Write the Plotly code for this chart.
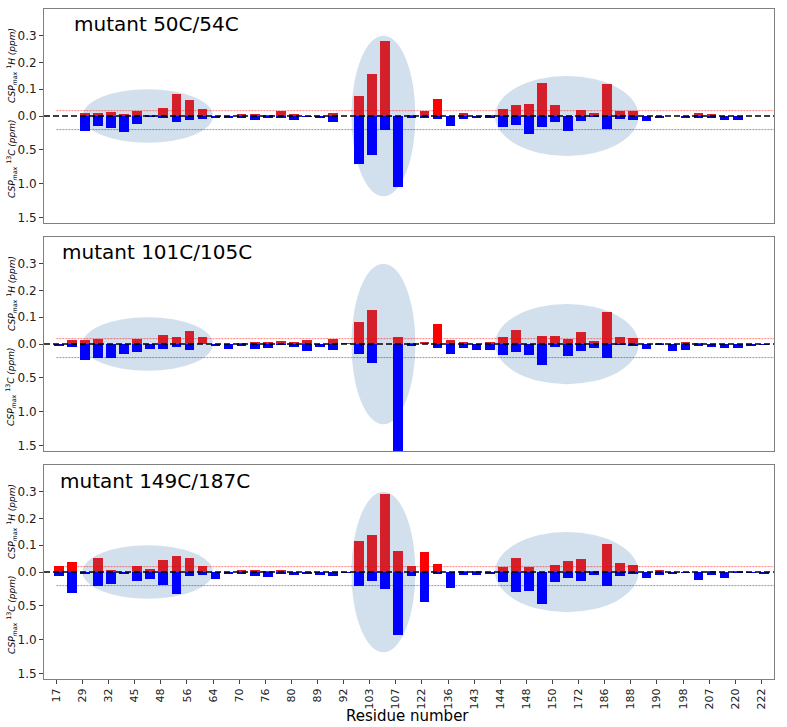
import plotly.graph_objects as go

# ---------------- data ----------------
RESIDUES = ["17", "17'", "29", "29'", "32", "32'", "45", "45'", "48", "48'",
            "56", "56'", "64", "64'", "70", "70'", "76", "76'", "80", "80'",
            "89", "89'", "92", "92'", "103", "103'", "107", "107'", "122", "122'",
            "136", "136'", "143", "143'", "144", "144'", "148", "148'", "150", "150'",
            "172", "172'", "186", "186'", "188", "188'", "190", "190'", "198", "198'",
            "207", "207'", "220", "220'", "222"]
TICK_RESIDUES = RESIDUES[::2]

MUTANTS = ["mutant 50C/54C", "mutant 101C/105C", "mutant 149C/187C"]

# 1H CSP (ppm), upward bars
H_50_54 = [0, 0, 0.010, 0.012, 0.015, 0.009, 0.019, 0.003, 0.030, 0.081,
           0.061, 0.027, 0, 0, 0.007, 0.009, 0.002, 0.017, 0.008, 0,
           0, 0.012, 0, 0.076, 0.158, 0.282, 0, 0.002, 0.017, 0.063,
           0, 0.010, 0, 0.002, 0.025, 0.042, 0.045, 0.122, 0.040, 0,
           0.024, 0.010, 0.119, 0.019, 0.019, 0, 0, 0, 0, 0.011,
           0.006, 0, 0, 0, 0]
H_101_105 = [0, 0.015, 0.014, 0.020, 0, 0, 0.017, 0, 0.034, 0.027,
             0.049, 0.026, 0, 0, 0.003, 0.009, 0.006, 0.012, 0.006, 0.015,
             0, 0.017, 0.003, 0.081, 0.126, 0, 0.025, 0.002, 0.004, 0.073,
             0.014, 0.005, 0, 0.009, 0.027, 0.054, 0, 0.029, 0.031, 0.017,
             0.045, 0.010, 0.120, 0.027, 0.022, 0, 0.003, 0, 0.009, 0.002,
             0, 0, 0, 0, 0]
H_149_187 = [0.021, 0.036, 0, 0.054, 0.004, 0, 0.024, 0.010, 0.046, 0.061,
             0.051, 0.021, 0, 0, 0.005, 0.004, 0.002, 0.008, 0, 0,
             0, 0, 0, 0.115, 0.140, 0.293, 0.080, 0.024, 0.074, 0.030,
             0, 0.003, 0.003, 0, 0.019, 0.054, 0.019, 0, 0.028, 0.040,
             0.049, 0.003, 0.104, 0.035, 0.028, 0, 0.008, 0, 0, 0,
             0.003, 0, 0.003, 0, 0]

# 13C CSP (ppm), downward bars
C_50_54 = [0, 0, 0.215, 0.147, 0.18, 0.235, 0.113, 0.005, 0.02, 0.093,
           0.064, 0.04, 0.02, 0.02, 0.015, 0.054, 0.03, 0.025, 0.06, 0.01,
           0.015, 0.083, 0, 0.70, 0.575, 0.205, 1.04, 0.025, 0.03, 0.05,
           0.147, 0.045, 0.035, 0.015, 0.167, 0.132, 0.265, 0.162, 0.088, 0.216,
           0.078, 0.01, 0.19, 0.04, 0.064, 0.074, 0.025, 0, 0.015, 0.025,
           0.015, 0.054, 0.054, 0, 0]
C_101_105 = [0.02, 0.04, 0.23, 0.20, 0.20, 0.14, 0.12, 0.08, 0.08, 0.05,
             0.085, 0, 0.03, 0.07, 0.02, 0.07, 0.055, 0.005, 0.04, 0.10,
             0.05, 0.085, 0, 0.15, 0.28, 0, 1.57, 0.03, 0, 0.055,
             0.14, 0.055, 0.095, 0.085, 0.16, 0.12, 0.165, 0.31, 0.05, 0.17,
             0.11, 0.06, 0.20, 0.01, 0.02, 0.08, 0.003, 0.11, 0.095, 0.025,
             0.045, 0.06, 0.055, 0.025, 0.005]
C_149_187 = [0.06, 0.31, 0.03, 0.21, 0.18, 0.025, 0.13, 0.10, 0.19, 0.32,
             0.06, 0.04, 0.11, 0.03, 0.02, 0.055, 0.08, 0.015, 0.04, 0.035,
             0.045, 0.065, 0.01, 0.21, 0.13, 0.25, 0.92, 0.06, 0.44, 0.03,
             0.24, 0.05, 0.04, 0.02, 0.15, 0.30, 0.28, 0.475, 0.15, 0.09,
             0.13, 0.04, 0.21, 0.06, 0.025, 0.09, 0.04, 0.02, 0.01, 0.12,
             0.05, 0.09, 0.01, 0.005, 0.015]

H_SERIES = [H_50_54, H_101_105, H_149_187]
C_SERIES = [C_50_54, C_101_105, C_149_187]
# residues drawn in bright red
BRIGHT_H = [["122'"], ["122'"], ["17", "17'", "122", "122'"]]

H_THRESHOLD = 0.02   # ppm
C_THRESHOLD = 0.2    # ppm
H_TICKS = [0.3, 0.2, 0.1, 0.0]
C_TICKS = [0.5, 1.0, 1.5]
# highlighted regions: (start index, end index, half height in 1H units)
REGIONS = [(2.0, 12.0, 0.1), (22.6, 27.5, 0.3), (33.6, 44.6, 0.15)]

# ---------------- style ----------------
C_SCALE = 0.254          # axis units per ppm of 13C
DARK_RED = "#d3202a"
BRIGHT_RED = "#ff0000"
BLUE = "#0000ff"
ELLIPSE = "rgba(70,130,180,0.25)"
FONT = "DejaVu Sans"

W, H = 787, 727
ML, MR, MT, MB = 44, 13, 9, 48
plot_w = W - ML - MR
plot_h = H - MT - MB
panels_px = [(9, 223), (237, 451), (465, 679)]


def py(ypix):
    return (H - MB - ypix) / plot_h


def px(xpix):
    return (xpix - ML) / plot_w


fig = go.Figure()

for k in range(3):
    n = "" if k == 0 else str(k + 1)
    xr, yr = "x" + n, "y" + n
    colors = [BRIGHT_RED if r in BRIGHT_H[k] else DARK_RED for r in RESIDUES]
    fig.add_trace(go.Bar(x=RESIDUES, y=H_SERIES[k], marker_color=colors,
                         marker_line_width=0, width=0.74, offset=-0.18,
                         xaxis=xr, yaxis=yr, showlegend=False))
    fig.add_trace(go.Bar(x=RESIDUES, y=[-c * C_SCALE for c in C_SERIES[k]],
                         marker_color=BLUE, marker_line_width=0, width=0.74,
                         offset=-0.18, xaxis=xr, yaxis=yr, showlegend=False))

    top, bot = panels_px[k]
    fig.layout["xaxis" + n] = dict(
        domain=[0, 1], anchor=yr, type="category", categoryorder="array",
        categoryarray=RESIDUES, range=[-0.95, 54.97], automargin=False,
        tickmode="array", tickvals=TICK_RESIDUES, ticktext=TICK_RESIDUES,
        showticklabels=(k == 2), ticks="outside" if k == 2 else "",
        ticklen=4, tickcolor="#444", tickangle=-90,
        tickfont=dict(family=FONT, size=11, color="#222"),
        showline=True, linecolor="#808080", linewidth=1, mirror=True,
        showgrid=False, zeroline=False)
    fig.layout["yaxis" + n] = dict(
        domain=[py(bot), py(top)], anchor=xr, range=[-0.4, 0.4], automargin=False,
        tickmode="array",
        tickvals=H_TICKS + [-c * C_SCALE for c in C_TICKS],
        ticktext=[f"{v:.1f}" for v in H_TICKS] + [f"{v:.1f}" for v in C_TICKS],
        ticks="outside", ticklen=4, tickcolor="#444",
        tickfont=dict(family=FONT, size=12, color="#222"),
        showline=True, linecolor="#808080", linewidth=1, mirror=True,
        showgrid=False, zeroline=False)

    for (x0, x1, hh) in REGIONS:
        fig.add_shape(type="circle", xref=xr, yref=yr, x0=x0, x1=x1, y0=-hh, y1=hh,
                      fillcolor=ELLIPSE, line_width=0, layer="below")
    fig.add_shape(type="line", xref=xr, yref=yr, x0=0, x1=54.97,
                  y0=H_THRESHOLD, y1=H_THRESHOLD, layer="above",
                  line=dict(color="rgba(255,0,0,0.5)", width=1, dash="2px,1px"))
    fig.add_shape(type="line", xref=xr, yref=yr, x0=0, x1=54.97,
                  y0=-C_THRESHOLD * C_SCALE, y1=-C_THRESHOLD * C_SCALE, layer="above",
                  line=dict(color="rgba(0,0,255,0.45)", width=1, dash="2px,1px"))
    fig.add_shape(type="line", xref=xr + " domain", yref=yr, x0=0, x1=1,
                  y0=0, y1=0, layer="above",
                  line=dict(color="black", width=1.6, dash="6px,3px"))

    # panel title
    title_x = [74, 62, 60][k]
    title_y = [23.5, 252.5, 481][k]
    fig.add_annotation(text=MUTANTS[k], xref="paper", yref="paper",
                       x=px(title_x - 2), y=py(title_y),
                       xanchor="left", yanchor="middle", showarrow=False,
                       font=dict(family=FONT, size=20, color="black"))
    # y titles
    fig.add_annotation(text="<i>CSP</i><sub><i>max</i></sub> <sup>1</sup><i>H (ppm)</i>",
                       xref="paper", yref="paper", x=px(11),
                       y=py(top + 57), textangle=-90, showarrow=False,
                       xanchor="center", yanchor="middle",
                       font=dict(family=FONT, size=9, color="black"))
    fig.add_annotation(text="<i>CSP</i><sub><i>max</i></sub> <sup>13</sup><i>C (ppm)</i>",
                       xref="paper", yref="paper", x=px(11),
                       y=py(top + 150), textangle=-90, showarrow=False,
                       xanchor="center", yanchor="middle",
                       font=dict(family=FONT, size=9, color="black"))

fig.add_annotation(text="Residue number", xref="paper", yref="paper",
                   x=px(407.5), y=py(716),
                   xanchor="center", yanchor="middle", showarrow=False,
                   font=dict(family=FONT, size=15, color="black"))

fig.update_layout(width=W, height=H, barmode="overlay", bargap=0,
                  margin=dict(l=ML, r=MR, t=MT, b=MB, autoexpand=False),
                  plot_bgcolor="white", paper_bgcolor="white",
                  font=dict(family=FONT))

fig.write_html("out.html", config={"displayModeBar": False},
               post_script="document.body.style.margin='0';"
                           "document.body.style.overflow='hidden';")
